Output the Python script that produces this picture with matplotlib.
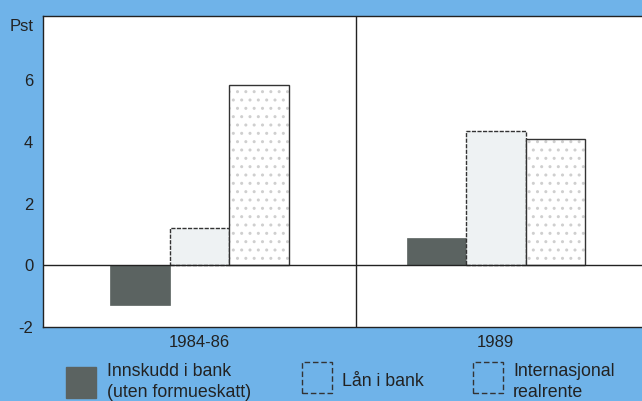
import matplotlib.pyplot as plt
from matplotlib.patches import Rectangle

plt.rcParams['font.family'] = ['Liberation Sans', 'DejaVu Sans']

# data (Pst)
periods = ["1984-86", "1989"]
innskudd = [-1.3, 0.9]
laan = [1.2, 4.35]
internasjonal = [5.85, 4.1]
series_names = ["Innskudd i bank\n(uten formueskatt)", "Lån i bank", "Internasjonal\nrealrente"]
y_ticks = [-2, 0, 2, 4, 6, 7.8]
y_labels = ["-2", "0", "2", "4", "6", "Pst"]

BLUE = "#6fb3e9"
DARK = "#5b6361"
LIGHT = "#eef2f3"

fig = plt.figure(figsize=(6.42, 4.01), dpi=100, facecolor=BLUE)
ax = fig.add_axes([0.067, 0.1845, 0.933, 0.7755])
ax.set_facecolor("white")

centers = [0.5, 1.447]
w = 0.19
x_dark = [c - w for c in centers]
x_intl = [c + w for c in centers]

ax.bar(x_dark, innskudd, width=w, color=DARK, edgecolor=DARK, linewidth=0.5, zorder=2)
ax.bar(centers, laan, width=w, color=LIGHT, edgecolor="#333333",
       linewidth=1.0, linestyle=(0, (3, 1)), zorder=2)
# dotted fill, then the outline
ax.bar(x_intl, internasjonal, width=w, color="white", edgecolor="#cfcfcf",
       hatch="..", linewidth=0, zorder=2)
ax.bar(x_intl, internasjonal, width=w, fill=False, edgecolor="#333333",
       linewidth=1.0, zorder=3)

ax.axhline(0, color="#222222", linewidth=1.0, zorder=4)
ax.axvline(1.0, color="#222222", linewidth=1.0, zorder=4)

ax.set_xlim(0, 1.914)
ax.set_ylim(-2, 8.08)
ax.set_xticks(centers)
ax.set_xticklabels(periods, fontsize=12)
ax.set_yticks(y_ticks)
ax.set_yticklabels(y_labels, fontsize=12)
ax.tick_params(axis="x", length=0, pad=6, colors="#222222")
ax.tick_params(axis="y", length=0, pad=7, colors="#222222")
for side in ["left", "bottom", "top"]:
    ax.spines[side].set_color("#222222")
    ax.spines[side].set_linewidth(1.0)
ax.spines["right"].set_visible(False)

# legend drawn by hand below the axes
W, H = 642, 401
patches = [
    dict(x=66, y=367, face=DARK, edge=DARK, ls="-"),
    dict(x=302, y=362, face="none", edge="#333333", ls=(0, (4, 2))),
    dict(x=473, y=362, face="none", edge="#333333", ls=(0, (4, 2))),
]
text_x = [107, 342, 513]
text_y = [382, 381, 382]
for p, tx, ty, name in zip(patches, text_x, text_y, series_names):
    fig.patches.append(Rectangle((p["x"] / W, (H - p["y"] - 31) / H), 30 / W, 31 / H,
                                 transform=fig.transFigure, facecolor=p["face"],
                                 edgecolor=p["edge"], linestyle=p["ls"], linewidth=1.0))
    fig.text(tx / W, (H - ty) / H, name, fontsize=12.8, va="center", ha="left",
             linespacing=1.25, color="#222222")

fig.savefig("out.png", dpi=100, facecolor=BLUE)
